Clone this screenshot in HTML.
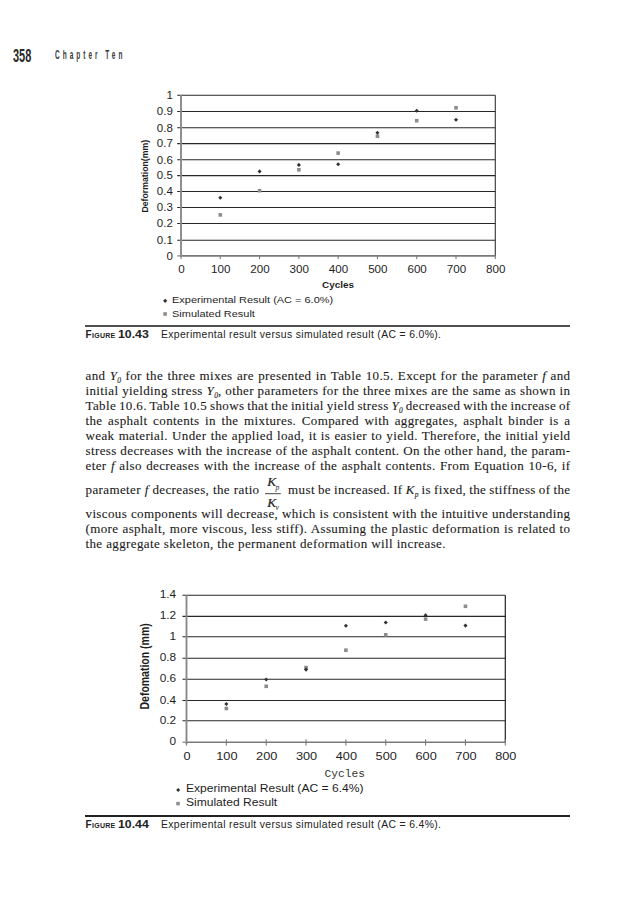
<!DOCTYPE html>
<html><head><meta charset="utf-8">
<style>
html,body{margin:0;padding:0;background:#fff;}
body{width:621px;height:900px;position:relative;overflow:hidden;font-family:"Liberation Sans",sans-serif;color:#222;}
.abs{position:absolute;white-space:nowrap;}
.hdr-num{left:12.8px;top:45px;font-size:18.6px;font-weight:bold;color:#2a2a2a;transform:scaleX(0.59);transform-origin:0 0;letter-spacing:0px;}
.hdr-ch{left:55px;top:47.2px;font-size:13px;font-weight:bold;color:#3a3a3a;letter-spacing:6px;transform:scaleX(0.5);transform-origin:0 0;}
.body{position:absolute;left:85.5px;width:485px;font-family:"Liberation Serif",serif;font-size:13px;letter-spacing:0.38px;color:#1a1a1a;-webkit-text-stroke:0.1px #1a1a1a;}
.ln{position:absolute;left:0;width:485px;height:15px;line-height:15px;text-align:left;white-space:nowrap;}
.ln.last{text-align-last:left;}
i{font-style:italic;}
sub{font-size:7.5px;vertical-align:0;position:relative;top:2.6px;font-style:italic;letter-spacing:0;}
.cap{position:absolute;left:85.5px;font-size:10px;color:#222;white-space:nowrap;}
.cap b{font-weight:bold;}
.fig{font-variant:small-caps;letter-spacing:0.3px;}
.num{font-weight:bold;letter-spacing:0px;font-size:10px;transform:scaleX(1.23);transform-origin:0 0;}
.txt{font-size:10.4px;letter-spacing:0.35px;}
.rule{position:absolute;left:85px;width:485px;height:1.3px;background:#333;}
svg{position:absolute;left:0;top:0;}
</style></head><body>
<div class="abs hdr-num">358</div>
<div class="abs hdr-ch">Chapter Ten</div>

<svg width="621" height="900" viewBox="0 0 621 900" font-family="Liberation Sans, sans-serif">
<line x1="177.2" y1="240.30" x2="495.3" y2="240.30" stroke="#262626" stroke-width="1.1"/>
<line x1="177.2" y1="223.50" x2="495.3" y2="223.50" stroke="#262626" stroke-width="1.1"/>
<line x1="177.2" y1="207.50" x2="495.3" y2="207.50" stroke="#262626" stroke-width="1.1"/>
<line x1="177.2" y1="191.50" x2="495.3" y2="191.50" stroke="#262626" stroke-width="1.1"/>
<line x1="177.2" y1="175.60" x2="495.3" y2="175.60" stroke="#262626" stroke-width="1.1"/>
<line x1="177.2" y1="159.80" x2="495.3" y2="159.80" stroke="#262626" stroke-width="1.1"/>
<line x1="177.2" y1="143.60" x2="495.3" y2="143.60" stroke="#262626" stroke-width="1.1"/>
<line x1="177.2" y1="127.80" x2="495.3" y2="127.80" stroke="#262626" stroke-width="1.1"/>
<line x1="177.2" y1="111.50" x2="495.3" y2="111.50" stroke="#262626" stroke-width="1.1"/>
<line x1="177.2" y1="95.30" x2="495.3" y2="95.30" stroke="#262626" stroke-width="1.1"/>
<line x1="177.2" y1="255.90" x2="181.0" y2="255.90" stroke="#777" stroke-width="1.1"/>
<line x1="495.3" y1="95.3" x2="495.3" y2="255.9" stroke="#333" stroke-width="1.1"/>
<line x1="181.0" y1="255.9" x2="495.3" y2="255.9" stroke="#7a7a7a" stroke-width="1.6"/>
<line x1="181.00" y1="255.4" x2="181.00" y2="258.9" stroke="#7a7a7a" stroke-width="1.1"/>
<line x1="220.29" y1="255.4" x2="220.29" y2="258.9" stroke="#7a7a7a" stroke-width="1.1"/>
<line x1="259.57" y1="255.4" x2="259.57" y2="258.9" stroke="#7a7a7a" stroke-width="1.1"/>
<line x1="298.86" y1="255.4" x2="298.86" y2="258.9" stroke="#7a7a7a" stroke-width="1.1"/>
<line x1="338.15" y1="255.4" x2="338.15" y2="258.9" stroke="#7a7a7a" stroke-width="1.1"/>
<line x1="377.44" y1="255.4" x2="377.44" y2="258.9" stroke="#7a7a7a" stroke-width="1.1"/>
<line x1="416.73" y1="255.4" x2="416.73" y2="258.9" stroke="#7a7a7a" stroke-width="1.1"/>
<line x1="456.01" y1="255.4" x2="456.01" y2="258.9" stroke="#7a7a7a" stroke-width="1.1"/>
<line x1="495.30" y1="255.4" x2="495.30" y2="258.9" stroke="#7a7a7a" stroke-width="1.1"/>
<line x1="181.0" y1="95.3" x2="181.0" y2="256.9" stroke="#8a8a8a" stroke-width="1.9"/>
<text transform="translate(172.80,259.60) scale(1.15,1)" text-anchor="end" font-size="10.0" fill="#1e1e1e">0</text>
<text transform="translate(172.80,244.00) scale(1.15,1)" text-anchor="end" font-size="10.0" fill="#1e1e1e">0.1</text>
<text transform="translate(172.80,227.20) scale(1.15,1)" text-anchor="end" font-size="10.0" fill="#1e1e1e">0.2</text>
<text transform="translate(172.80,211.20) scale(1.15,1)" text-anchor="end" font-size="10.0" fill="#1e1e1e">0.3</text>
<text transform="translate(172.80,195.20) scale(1.15,1)" text-anchor="end" font-size="10.0" fill="#1e1e1e">0.4</text>
<text transform="translate(172.80,179.30) scale(1.15,1)" text-anchor="end" font-size="10.0" fill="#1e1e1e">0.5</text>
<text transform="translate(172.80,163.50) scale(1.15,1)" text-anchor="end" font-size="10.0" fill="#1e1e1e">0.6</text>
<text transform="translate(172.80,147.30) scale(1.15,1)" text-anchor="end" font-size="10.0" fill="#1e1e1e">0.7</text>
<text transform="translate(172.80,131.50) scale(1.15,1)" text-anchor="end" font-size="10.0" fill="#1e1e1e">0.8</text>
<text transform="translate(172.80,115.20) scale(1.15,1)" text-anchor="end" font-size="10.0" fill="#1e1e1e">0.9</text>
<text transform="translate(172.80,99.00) scale(1.15,1)" text-anchor="end" font-size="10.0" fill="#1e1e1e">1</text>
<text transform="translate(181.40,273.00) scale(1.14,1)" text-anchor="middle" font-size="10.2" fill="#1e1e1e">0</text>
<text transform="translate(220.69,273.00) scale(1.14,1)" text-anchor="middle" font-size="10.2" fill="#1e1e1e">100</text>
<text transform="translate(259.97,273.00) scale(1.14,1)" text-anchor="middle" font-size="10.2" fill="#1e1e1e">200</text>
<text transform="translate(299.26,273.00) scale(1.14,1)" text-anchor="middle" font-size="10.2" fill="#1e1e1e">300</text>
<text transform="translate(338.55,273.00) scale(1.14,1)" text-anchor="middle" font-size="10.2" fill="#1e1e1e">400</text>
<text transform="translate(377.84,273.00) scale(1.14,1)" text-anchor="middle" font-size="10.2" fill="#1e1e1e">500</text>
<text transform="translate(417.12,273.00) scale(1.14,1)" text-anchor="middle" font-size="10.2" fill="#1e1e1e">600</text>
<text transform="translate(456.41,273.00) scale(1.14,1)" text-anchor="middle" font-size="10.2" fill="#1e1e1e">700</text>
<text transform="translate(495.70,273.00) scale(1.14,1)" text-anchor="middle" font-size="10.2" fill="#1e1e1e">800</text>
<text transform="translate(338.00,287.60) scale(1.15,1)" text-anchor="middle" font-size="8.6" font-weight="bold" fill="#1e1e1e">Cycles</text>
<text transform="translate(148.10,176.20) scale(1.0,1) rotate(-90) scale(0.91,1)" text-anchor="middle" font-size="9.6" font-weight="bold" fill="#1e1e1e">Deformation(mm)</text>
<rect x="218.49" y="213.10" width="3.6" height="3.6" fill="#8c8c8c"/>
<rect x="257.77" y="188.90" width="3.6" height="3.6" fill="#8c8c8c"/>
<rect x="297.06" y="168.00" width="3.6" height="3.6" fill="#8c8c8c"/>
<rect x="336.35" y="151.30" width="3.6" height="3.6" fill="#8c8c8c"/>
<rect x="375.64" y="134.40" width="3.6" height="3.6" fill="#8c8c8c"/>
<rect x="414.93" y="118.90" width="3.6" height="3.6" fill="#8c8c8c"/>
<rect x="454.21" y="106.00" width="3.6" height="3.6" fill="#8c8c8c"/>
<path d="M220.29 195.65L222.34 197.70L220.29 199.75L218.24 197.70Z" fill="#303030"/>
<path d="M259.57 169.35L261.62 171.40L259.57 173.45L257.52 171.40Z" fill="#303030"/>
<path d="M298.86 162.85L300.91 164.90L298.86 166.95L296.81 164.90Z" fill="#303030"/>
<path d="M338.15 162.15L340.20 164.20L338.15 166.25L336.10 164.20Z" fill="#303030"/>
<path d="M377.44 130.75L379.49 132.80L377.44 134.85L375.39 132.80Z" fill="#303030"/>
<path d="M416.73 108.65L418.78 110.70L416.73 112.75L414.68 110.70Z" fill="#303030"/>
<path d="M456.01 117.75L458.06 119.80L456.01 121.85L453.96 119.80Z" fill="#303030"/>
<path d="M165.20 298.70L167.30 300.80L165.20 302.90L163.10 300.80Z" fill="#303030"/>
<rect x="163.30" y="312.20" width="3.6" height="3.6" fill="#8c8c8c"/>
<text transform="translate(172.00,303.40) scale(1.12,1)" text-anchor="start" font-size="9.8" fill="#1e1e1e">Experimental Result (AC = 6.0%)</text>
<text transform="translate(172.00,316.70) scale(1.12,1)" text-anchor="start" font-size="9.8" fill="#1e1e1e">Simulated Result</text>
<line x1="182.5" y1="720.80" x2="505.3" y2="720.80" stroke="#262626" stroke-width="1.1"/>
<line x1="182.5" y1="700.50" x2="505.3" y2="700.50" stroke="#262626" stroke-width="1.1"/>
<line x1="182.5" y1="679.30" x2="505.3" y2="679.30" stroke="#262626" stroke-width="1.1"/>
<line x1="182.5" y1="658.30" x2="505.3" y2="658.30" stroke="#262626" stroke-width="1.1"/>
<line x1="182.5" y1="636.70" x2="505.3" y2="636.70" stroke="#262626" stroke-width="1.1"/>
<line x1="182.5" y1="616.40" x2="505.3" y2="616.40" stroke="#262626" stroke-width="1.1"/>
<line x1="182.5" y1="595.20" x2="505.3" y2="595.20" stroke="#262626" stroke-width="1.1"/>
<line x1="182.5" y1="742.20" x2="186.5" y2="742.20" stroke="#777" stroke-width="1.1"/>
<line x1="505.3" y1="595.2" x2="505.3" y2="742.2" stroke="#222" stroke-width="1.2"/>
<line x1="186.5" y1="742.2" x2="505.3" y2="742.2" stroke="#7a7a7a" stroke-width="1.6"/>
<line x1="186.50" y1="739.2" x2="186.50" y2="745.6" stroke="#7a7a7a" stroke-width="1.1"/>
<line x1="226.35" y1="739.2" x2="226.35" y2="745.6" stroke="#7a7a7a" stroke-width="1.1"/>
<line x1="266.20" y1="739.2" x2="266.20" y2="745.6" stroke="#7a7a7a" stroke-width="1.1"/>
<line x1="306.05" y1="739.2" x2="306.05" y2="745.6" stroke="#7a7a7a" stroke-width="1.1"/>
<line x1="345.90" y1="739.2" x2="345.90" y2="745.6" stroke="#7a7a7a" stroke-width="1.1"/>
<line x1="385.75" y1="739.2" x2="385.75" y2="745.6" stroke="#7a7a7a" stroke-width="1.1"/>
<line x1="425.60" y1="739.2" x2="425.60" y2="745.6" stroke="#7a7a7a" stroke-width="1.1"/>
<line x1="465.45" y1="739.2" x2="465.45" y2="745.6" stroke="#7a7a7a" stroke-width="1.1"/>
<line x1="505.30" y1="739.2" x2="505.30" y2="745.6" stroke="#7a7a7a" stroke-width="1.1"/>
<line x1="186.5" y1="595.2" x2="186.5" y2="744.2" stroke="#8a8a8a" stroke-width="1.9"/>
<text transform="translate(176.20,745.20) scale(1.15,1)" text-anchor="end" font-size="10.3" fill="#1e1e1e">0</text>
<text transform="translate(176.20,723.80) scale(1.15,1)" text-anchor="end" font-size="10.3" fill="#1e1e1e">0.2</text>
<text transform="translate(176.20,703.50) scale(1.15,1)" text-anchor="end" font-size="10.3" fill="#1e1e1e">0.4</text>
<text transform="translate(176.20,682.30) scale(1.15,1)" text-anchor="end" font-size="10.3" fill="#1e1e1e">0.6</text>
<text transform="translate(176.20,661.30) scale(1.15,1)" text-anchor="end" font-size="10.3" fill="#1e1e1e">0.8</text>
<text transform="translate(176.20,639.70) scale(1.15,1)" text-anchor="end" font-size="10.3" fill="#1e1e1e">1</text>
<text transform="translate(176.20,619.40) scale(1.15,1)" text-anchor="end" font-size="10.3" fill="#1e1e1e">1.2</text>
<text transform="translate(176.20,598.20) scale(1.15,1)" text-anchor="end" font-size="10.3" fill="#1e1e1e">1.4</text>
<text transform="translate(187.00,760.40) scale(1.25,1)" text-anchor="middle" font-size="10.2" fill="#1e1e1e">0</text>
<text transform="translate(226.85,760.40) scale(1.25,1)" text-anchor="middle" font-size="10.2" fill="#1e1e1e">100</text>
<text transform="translate(266.70,760.40) scale(1.25,1)" text-anchor="middle" font-size="10.2" fill="#1e1e1e">200</text>
<text transform="translate(306.55,760.40) scale(1.25,1)" text-anchor="middle" font-size="10.2" fill="#1e1e1e">300</text>
<text transform="translate(346.40,760.40) scale(1.25,1)" text-anchor="middle" font-size="10.2" fill="#1e1e1e">400</text>
<text transform="translate(386.25,760.40) scale(1.25,1)" text-anchor="middle" font-size="10.2" fill="#1e1e1e">500</text>
<text transform="translate(426.10,760.40) scale(1.25,1)" text-anchor="middle" font-size="10.2" fill="#1e1e1e">600</text>
<text transform="translate(465.95,760.40) scale(1.25,1)" text-anchor="middle" font-size="10.2" fill="#1e1e1e">700</text>
<text transform="translate(505.80,760.40) scale(1.25,1)" text-anchor="middle" font-size="10.2" fill="#1e1e1e">800</text>
<text transform="translate(344.70,776.60) scale(1.0,1)" text-anchor="middle" font-size="11.2" font-family="Liberation Mono, monospace" fill="#333">Cycles</text>
<text transform="translate(148.60,666.40) scale(1.0,1) rotate(-90) scale(0.875,1)" text-anchor="middle" font-size="12" font-weight="bold" fill="#1e1e1e">Defomation (mm)</text>
<rect x="224.55" y="706.70" width="3.6" height="3.6" fill="#8c8c8c"/>
<rect x="264.40" y="684.50" width="3.6" height="3.6" fill="#8c8c8c"/>
<rect x="304.25" y="665.80" width="3.6" height="3.6" fill="#8c8c8c"/>
<rect x="344.10" y="648.40" width="3.6" height="3.6" fill="#8c8c8c"/>
<rect x="383.95" y="633.00" width="3.6" height="3.6" fill="#8c8c8c"/>
<rect x="423.80" y="617.30" width="3.6" height="3.6" fill="#8c8c8c"/>
<rect x="463.65" y="604.50" width="3.6" height="3.6" fill="#8c8c8c"/>
<path d="M226.35 701.95L228.40 704.00L226.35 706.05L224.30 704.00Z" fill="#303030"/>
<path d="M266.20 677.45L268.25 679.50L266.20 681.55L264.15 679.50Z" fill="#303030"/>
<path d="M306.05 667.55L308.10 669.60L306.05 671.65L304.00 669.60Z" fill="#303030"/>
<path d="M345.90 623.75L347.95 625.80L345.90 627.85L343.85 625.80Z" fill="#303030"/>
<path d="M385.75 620.45L387.80 622.50L385.75 624.55L383.70 622.50Z" fill="#303030"/>
<path d="M425.60 613.25L427.65 615.30L425.60 617.35L423.55 615.30Z" fill="#303030"/>
<path d="M465.45 623.55L467.50 625.60L465.45 627.65L463.40 625.60Z" fill="#303030"/>
<path d="M178.20 788.00L180.20 790.00L178.20 792.00L176.20 790.00Z" fill="#303030"/>
<rect x="176.25" y="801.85" width="3.5" height="3.5" fill="#8c8c8c"/>
<text transform="translate(185.90,791.60) scale(1.12,1)" text-anchor="start" font-size="10.8" fill="#1e1e1e">Experimental Result (AC = 6.4%)</text>
<text transform="translate(185.90,805.70) scale(1.12,1)" text-anchor="start" font-size="10.8" fill="#1e1e1e">Simulated Result</text>
<text x="267.2" y="485.6" font-family="Liberation Serif, serif" font-style="italic" font-size="13.4" fill="#1a1a1a" stroke="#1a1a1a" stroke-width="0.2">K</text>
<text x="275.6" y="490.2" font-family="Liberation Serif, serif" font-style="italic" font-size="7.5" fill="#1a1a1a">p</text>
<rect x="265" y="493.1" width="15.8" height="1.1" fill="#555"/>
<text x="267.2" y="506.7" font-family="Liberation Serif, serif" font-style="italic" font-size="13.4" fill="#1a1a1a" stroke="#1a1a1a" stroke-width="0.2">K</text>
<text x="275.4" y="510.0" font-family="Liberation Serif, serif" font-style="italic" font-size="7.5" fill="#1a1a1a">v</text>
</svg>

<div class="rule" style="top:325.3px;background:#4f4f4f;height:1.4px"></div>
<div class="cap" style="top:329px;left:85.5px"><b class="fig">Figure</b></div><div class="cap num" style="top:329px;left:117.5px">10.43</div><div class="cap txt" style="top:329px;left:161px">Experimental result versus simulated result (AC = 6.0%).</div>

<div class="body" style="top:0">
<div class="ln" style="top:368px;word-spacing:0.694px">and <i>Y</i><sub>0</sub> for the three mixes are presented in Table 10.5. Except for the parameter <i>f</i> and</div>
<div class="ln" style="top:383px;word-spacing:0.104px">initial yielding stress <i>Y</i><sub>0</sub>, other parameters for the three mixes are the same as shown in</div>
<div class="ln" style="top:398px;word-spacing:-0.797px">Table 10.6. Table 10.5 shows that the initial yield stress <i>Y</i><sub>0</sub> decreased with the increase of</div>
<div class="ln" style="top:413px;word-spacing:1.927px">the asphalt contents in the mixtures. Compared with aggregates, asphalt binder is a</div>
<div class="ln" style="top:428px;word-spacing:0.554px">weak material. Under the applied load, it is easier to yield. Therefore, the initial yield</div>
<div class="ln" style="top:443px;word-spacing:0.075px">stress decreases with the increase of the asphalt content. On the other hand, the param-</div>
<div class="ln" style="top:458px;word-spacing:0.770px">eter <i>f</i> also decreases with the increase of the asphalt contents. From Equation 10-6, if</div>
<div class="ln" style="top:482.2px;width:174px;word-spacing:0.125px">parameter <i>f</i> decreases, the ratio</div>
<div class="ln" style="top:482.2px;left:202.6px;width:282.4px;word-spacing:-0.594px">must be increased. If <i>K</i><sub>p</sub> is fixed, the stiffness of the</div>
<div class="ln" style="top:505.9px;word-spacing:0.138px">viscous components will decrease, which is consistent with the intuitive understanding</div>
<div class="ln" style="top:521.1px;word-spacing:0.432px">(more asphalt, more viscous, less stiff). Assuming the plastic deformation is related to</div>
<div class="ln last" style="top:535.6px">the aggregate skeleton, the permanent deformation will increase.</div>
</div>

<div class="rule" style="top:815px;background:#222;height:1.6px"></div>
<div class="cap" style="top:818.8px;left:85.5px"><b class="fig">Figure</b></div><div class="cap num" style="top:818.8px;left:117.5px">10.44</div><div class="cap txt" style="top:818.8px;left:161px">Experimental result versus simulated result (AC = 6.4%).</div>
</body></html>
